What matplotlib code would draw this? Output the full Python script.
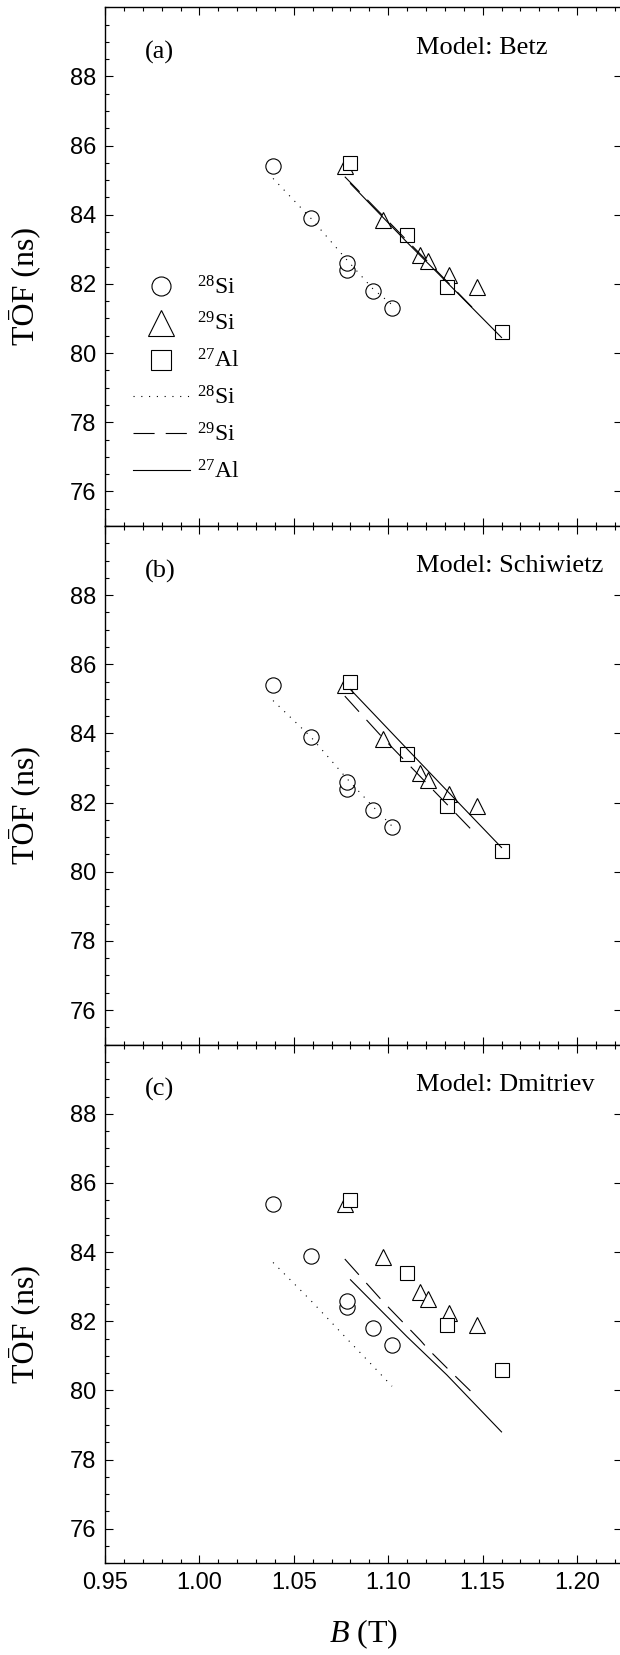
import matplotlib
matplotlib.use("Agg")
import matplotlib.pyplot as plt
from matplotlib.lines import Line2D
from matplotlib.ticker import MultipleLocator, FixedLocator

plt.rcParams["font.family"] = "Liberation Serif"
plt.rcParams["mathtext.fontset"] = "custom"
plt.rcParams["mathtext.rm"] = "Liberation Serif"
plt.rcParams["mathtext.it"] = "Liberation Serif:italic"

# measured mean time of flight vs. magnetic field
b_si28 = [1.039, 1.059, 1.078, 1.078, 1.092, 1.102]
tof_si28 = [85.4, 83.9, 82.4, 82.6, 81.8, 81.3]
b_si29 = [1.077, 1.097, 1.117, 1.121, 1.132, 1.147]
tof_si29 = [85.4, 83.85, 82.85, 82.65, 82.25, 81.9]
b_al27 = [1.080, 1.110, 1.131, 1.160]
tof_al27 = [85.5, 83.4, 81.9, 80.6]

# calculated TOF for each stopping-power model
b_calc_si28 = [1.039, 1.059, 1.078, 1.092, 1.102]
b_calc_si29 = b_si29
b_calc_al27 = b_al27

betz_si28 = [85.05, 83.9, 82.7, 81.85, 81.4]
betz_si29 = [85.1, 83.98, 82.86, 82.64, 82.02, 81.18]
betz_al27 = [84.9, 83.2, 82.05, 80.45]

schiwietz_si28 = [84.95, 83.9, 82.7, 81.88, 81.32]
schiwietz_si29 = [85.08, 83.88, 82.75, 82.52, 81.9, 81.05]
schiwietz_al27 = [85.27, 83.55, 82.35, 80.7]

dmitriev_si28 = [83.7, 82.6, 81.5, 80.7, 80.12]
dmitriev_si29 = [83.8, 82.58, 81.45, 81.2, 80.6, 79.8]
dmitriev_al27 = [83.2, 81.55, 80.45, 78.8]

panel_tags = ["(a)", "(b)", "(c)"]
model_names = ["Betz", "Schiwietz", "Dmitriev"]
calc_si28 = [betz_si28, schiwietz_si28, dmitriev_si28]
calc_si29 = [betz_si29, schiwietz_si29, dmitriev_si29]
calc_al27 = [betz_al27, schiwietz_al27, dmitriev_al27]

dotted = (0, (1, 6))
dashed = (0, (19, 10))

fig = plt.figure(figsize=(6.2, 16.55), dpi=100)
left = 105 / 620
width = 517 / 620
height = 0.3134
bottoms = [0.6822, 0.3688, 0.0554]

axes = []
for i in range(3):
    ax = fig.add_axes([left, bottoms[i], width, height])
    axes.append(ax)

    # data points (open symbols)
    mk = dict(ls="none", mfc="white", mec="black", mew=0.8, zorder=2)
    ax.plot(b_si28, tof_si28, marker="o", ms=11, **mk)
    ax.plot(b_si29, tof_si29, marker="^", ms=12, **mk)
    ax.plot(b_al27, tof_al27, marker="s", ms=9.5, **mk)

    # model curves
    ax.plot(b_calc_si28, calc_si28[i], color="black", lw=0.8, ls=dotted, zorder=3)
    ax.plot(b_calc_si29, calc_si29[i], color="black", lw=0.8, ls=dashed, zorder=3)
    ax.plot(b_calc_al27, calc_al27[i], color="black", lw=0.8, ls="-", zorder=3)

    ax.set_xlim(0.95, 1.2238)
    ax.set_ylim(75, 90)
    ax.xaxis.set_major_locator(MultipleLocator(0.05))
    ax.xaxis.set_minor_locator(MultipleLocator(0.01))
    ax.yaxis.set_major_locator(FixedLocator([76, 78, 80, 82, 84, 86, 88]))
    ax.yaxis.set_minor_locator(MultipleLocator(0.5))
    ax.xaxis.set_major_formatter(plt.FuncFormatter(lambda v, p: f"{v:.2f}"))

    ax.tick_params(which="both", direction="in", top=True, right=True,
                   width=0.8, labelsize=17, pad=6.5,
                   labelfontfamily="Liberation Sans")
    ax.tick_params(which="major", length=5.5)
    ax.tick_params(which="minor", length=3, right=False)
    for s in ax.spines.values():
        s.set_linewidth(1.0)

    if i < 2:
        ax.tick_params(labelbottom=False)

    ax.text(0.106, 0.913, panel_tags[i], transform=ax.transAxes,
            fontsize=19, ha="center", va="center")
    ax.text(0.6015, 0.922, "Model: " + model_names[i], transform=ax.transAxes,
            fontsize=19, ha="left", va="center")

    ax.set_ylabel("T\u014CF (ns)", fontsize=23)
    ax.yaxis.set_label_coords(-0.126, 0.462)

axes[2].set_xlabel("$B$ (T)", fontsize=23)
axes[2].xaxis.set_label_coords(0.5, -0.105)

# legend in the top panel
mk_leg = dict(ls="none", mfc="white", mec="black", mew=0.8)
handles = [
    Line2D([], [], marker="o", ms=13.7, **mk_leg),
    Line2D([], [], marker="^", ms=18.7, **mk_leg),
    Line2D([], [], marker="s", ms=13.7, **mk_leg),
    Line2D([], [], color="black", lw=0.8, ls=dotted),
    Line2D([], [], color="black", lw=0.8, ls=dashed),
    Line2D([], [], color="black", lw=0.8, ls="-"),
]
labels = ["$^{28}$Si", "$^{29}$Si", "$^{27}$Al", "$^{28}$Si", "$^{29}$Si", "$^{27}$Al"]
axes[0].legend(handles, labels, loc="center left", bbox_to_anchor=(0.054, 0.282),
               frameon=False, fontsize=17, handlelength=2.42, handletextpad=0.28,
               borderpad=0, borderaxespad=0, labelspacing=0.58, numpoints=1)

fig.savefig("out.png", dpi=100)
